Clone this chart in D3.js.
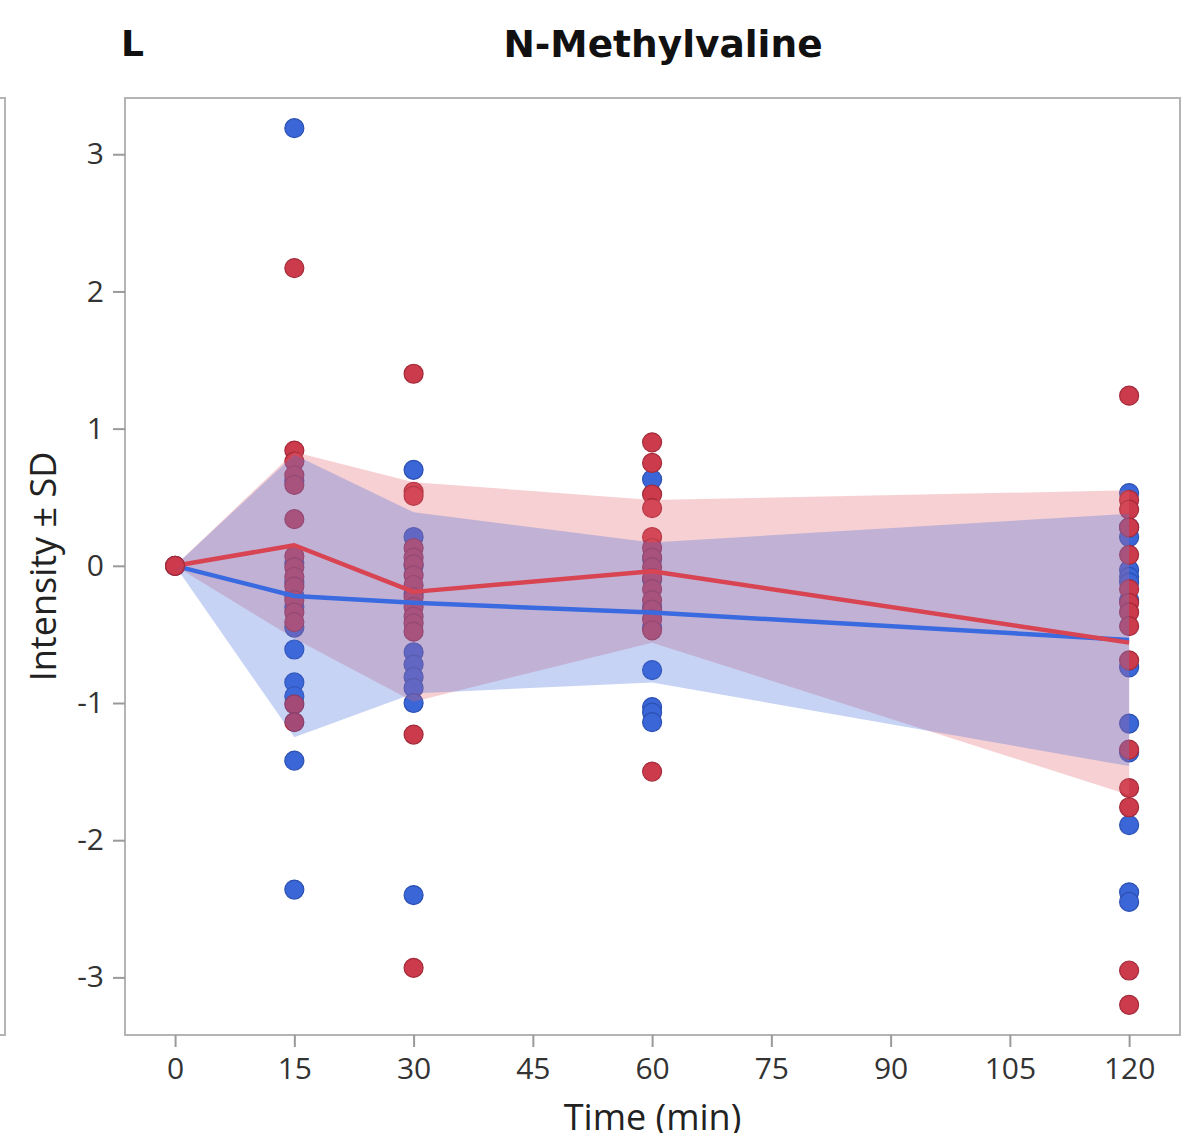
<!DOCTYPE html>
<html><head><meta charset="utf-8">
<script src="https://cdn.jsdelivr.net/npm/d3@7"></script>
<style>
html,body{margin:0;padding:0;background:#fff;}
svg{display:block;font-family:"Open Sans","Noto Sans",sans-serif;}
</style></head>
<body><svg id="c" width="1203" height="1133"></svg>
<script>
const times = [0, 15, 30, 60, 120];
const xTicks = [0, 15, 30, 45, 60, 75, 90, 105, 120];
const yTicks = [-3, -2, -1, 0, 1, 2, 3];

const blueMean = [0, -0.22, -0.27, -0.34, -0.54];
const blueSD   = [0, 1.03, 0.66, 0.51, 0.92];
const redMean  = [0, 0.15, -0.19, -0.04, -0.56];
const redSD    = [0, 0.68, 0.80, 0.52, 1.11];

const blue0   = [0];
const blue15  = [3.19, 0.62, 0.02, -0.12, -0.22, -0.30, -0.45, -0.61, -0.85, -0.95, -1.42, -2.36];
const blue30  = [0.70, 0.21, 0.0, -0.20, -0.63, -0.72, -0.81, -0.89, -1.00, -2.40];
const blue60  = [0.63, 0.05, -0.10, -0.30, -0.45, -0.76, -1.03, -1.07, -1.14];
const blue120 = [0.53, 0.28, 0.21, -0.03, -0.08, -0.12, -0.25, -0.74, -1.15, -1.36, -1.89, -2.38, -2.45];

const red0   = [0];
const red15  = [2.17, 0.84, 0.76, 0.66, 0.59, 0.34, 0.07, -0.01, -0.08, -0.15, -0.25, -0.34, -0.41, -1.01, -1.14];
const red30  = [1.40, 0.54, 0.51, 0.13, 0.06, 0.01, -0.07, -0.14, -0.23, -0.30, -0.37, -0.42, -0.48, -1.23, -2.93];
const red60  = [0.90, 0.75, 0.52, 0.42, 0.21, 0.13, 0.06, -0.01, -0.09, -0.17, -0.25, -0.32, -0.39, -0.47, -1.50];
const red120 = [1.24, 0.48, 0.41, 0.28, 0.08, -0.17, -0.27, -0.34, -0.44, -0.69, -1.34, -1.62, -1.76, -2.95, -3.20];

const bluePts = [blue0, blue15, blue30, blue60, blue120];
const redPts  = [red0, red15, red30, red60, red120];

const L = 125, R = 1180, T = 98, B = 1035;
const x = d3.scaleLinear().domain([-6.3, 126.4]).range([L, R]);
const y = d3.scaleLinear().domain([-3.42, 3.41]).range([B, T]);

const svg = d3.select("#c");

// neighbouring panel edge
svg.append("rect").attr("x", -20).attr("y", T).attr("width", 25).attr("height", B - T)
  .attr("fill", "none").attr("stroke", "#b4b4b4").attr("stroke-width", 2);

// title
svg.append("text").attr("x", 121).attr("y", 56).attr("font-size", 36).attr("font-weight", "bold")
  .attr("font-family", "'DejaVu Sans',sans-serif").attr("fill", "#111").text("L");
svg.append("text").attr("x", 663).attr("y", 57).attr("text-anchor", "middle").attr("font-size", 37.5)
  .attr("font-family", "'DejaVu Sans',sans-serif")
  .attr("font-weight", "bold").attr("fill", "#111").text("N-Methylvaline");

const plot = svg.append("g");

function pts(arrs, fill, stroke) {
  const data = [];
  arrs.forEach((a, i) => a.forEach(v => data.push({t: times[i], v})));
  plot.append("g").selectAll("circle").data(data).join("circle")
    .attr("cx", d => x(d.t)).attr("cy", d => y(d.v)).attr("r", 9.5)
    .attr("fill", fill).attr("stroke", stroke).attr("stroke-width", 1.2);
}
pts(bluePts, "#3a66d8", "#2c50b0");
pts(redPts, "#cc3b4c", "#a32a3a");

function band(mean, sd, fill) {
  const d = times.map((t, i) => ({t, lo: mean[i] - sd[i], hi: mean[i] + sd[i]}));
  plot.append("path").datum(d)
    .attr("d", d3.area().x(p => x(p.t)).y0(p => y(p.lo)).y1(p => y(p.hi)))
    .attr("fill", fill).attr("fill-opacity", 0.3);
}
band(redMean, redSD, "rgb(230,100,110)");
band(blueMean, blueSD, "rgb(70,110,220)");

function line(mean, color) {
  const d = times.map((t, i) => ({t, v: mean[i]}));
  plot.append("path").datum(d)
    .attr("d", d3.line().x(p => x(p.t)).y(p => y(p.v)))
    .attr("fill", "none").attr("stroke", color).attr("stroke-width", 4.5).attr("stroke-linejoin", "round");
}
line(blueMean, "#3a6ae0");
line(redMean, "#d84452");

// red point at time 0 on top
plot.append("circle").attr("cx", x(0)).attr("cy", y(red0[0])).attr("r", 9.5)
  .attr("fill", "#cc3b4c").attr("stroke", "#a32a3a").attr("stroke-width", 1.2).attr("fill-opacity", 0.9);

// frame
svg.append("rect").attr("x", L).attr("y", T).attr("width", R - L).attr("height", B - T)
  .attr("fill", "none").attr("stroke", "#b4b4b4").attr("stroke-width", 2);

// axes
const xAxis = svg.append("g").attr("transform", `translate(0,${B})`)
  .call(d3.axisBottom(x).tickValues(xTicks).tickSize(12).tickPadding(11));
const yAxis = svg.append("g").attr("transform", `translate(${L},0)`)
  .call(d3.axisLeft(y).tickValues(yTicks).tickSize(12).tickPadding(9).tickFormat(d3.format("d")));
[xAxis, yAxis].forEach(g => {
  g.select(".domain").remove();
  g.selectAll(".tick line").attr("stroke", "#9a9a9a").attr("stroke-width", 2);
  g.selectAll(".tick text").attr("font-size", 30).attr("fill", "#333")
    .attr("font-family", "'Open Sans','Noto Sans',sans-serif");
});
yAxis.selectAll(".tick text").text(d => d < 0 ? "-" + Math.abs(d) : String(d));

svg.append("text").attr("x", (L + R) / 2).attr("y", 1130).attr("text-anchor", "middle")
  .attr("font-size", 36).attr("fill", "#222").text("Time (min)");
svg.append("text").attr("transform", `translate(56,${(T + B) / 2}) rotate(-90)`)
  .attr("text-anchor", "middle").attr("font-size", 36).attr("fill", "#222").text("Intensity ± SD");
</script></body></html>
